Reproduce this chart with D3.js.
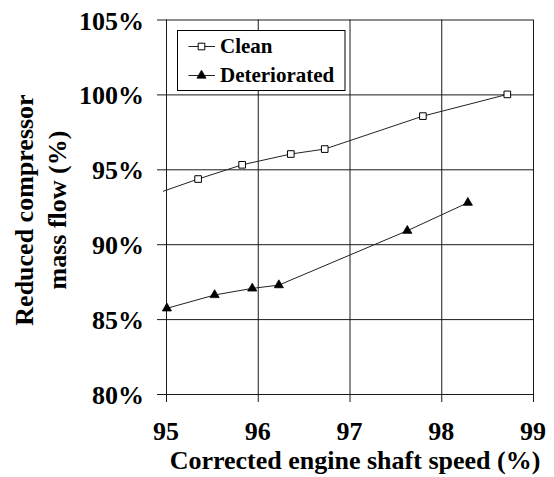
<!DOCTYPE html>
<html>
<head>
<meta charset="utf-8">
<script src="https://cdn.jsdelivr.net/npm/d3@7"></script>
<style>
  html, body { margin: 0; padding: 0; background: #fff; }
  svg { display: block; }
  text { font-family: "Liberation Serif", "Times New Roman", serif; font-weight: bold; fill: #000; }
</style>
</head>
<body>
<script>
// Compressor mass flow against corrected shaft speed
const xTicks = [95, 96, 97, 98, 99];
const yTicks = [80, 85, 90, 95, 100, 105];

// Clean engine (first point lies just left of the axis range and is clipped)
const cleanSpeed = [94.8, 95.35, 95.83, 96.36, 96.73, 97.80, 98.72];
const cleanFlow  = [93.17, 94.35, 95.30, 96.02, 96.35, 98.55, 100.0];

// Deteriorated engine
const detSpeed = [95.01, 95.53, 95.94, 96.23, 97.63, 98.29];
const detFlow  = [85.72, 86.61, 87.05, 87.27, 90.90, 92.77];

const seriesNames = ["Clean", "Deteriorated"];

const W = 554, H = 477;
const plotL = 166, plotR = 533, plotT = 19.5, plotB = 394;

const svg = d3.select("body").append("svg").attr("width", W).attr("height", H);

const x = d3.scaleLinear().domain([95, 99]).range([plotL, plotR]);
const y = d3.scaleLinear().domain([80, 105]).range([plotB, plotT]);

const gridColor = "#1a1a1a";

// Horizontal gridlines with outward ticks
const yAxis = d3.axisLeft(y).tickValues(yTicks).tickSize(-(plotR - plotL)).tickFormat("");
const gy = svg.append("g").attr("transform", `translate(${plotL},0)`).call(yAxis);
gy.select(".domain").remove();
gy.selectAll(".tick line").attr("stroke", gridColor).attr("x1", -9);

// Vertical gridlines with outward ticks
const xAxis = d3.axisBottom(x).tickValues(xTicks).tickSize(-(plotB - plotT)).tickFormat("");
const gx = svg.append("g").attr("transform", `translate(0,${plotB})`).call(xAxis);
gx.select(".domain").remove();
gx.selectAll(".tick line").attr("stroke", gridColor).attr("y1", 8);

// Tick labels
svg.append("g").selectAll("text").data(yTicks).join("text")
  .attr("x", 144).attr("y", d => y(d) + 10)
  .attr("text-anchor", "end").attr("font-size", 26)
  .text(d => d + "%");

svg.append("g").selectAll("text").data(xTicks).join("text")
  .attr("x", d => x(d)).attr("y", 440)
  .attr("text-anchor", "middle").attr("font-size", 26)
  .text(d => d);

// Axis titles
svg.append("text").attr("x", 355).attr("y", 469)
  .attr("text-anchor", "middle").attr("font-size", 26)
  .text("Corrected engine shaft speed (%)");

const yt = svg.append("text").attr("transform", "translate(32.5,210) rotate(-90)")
  .attr("text-anchor", "middle").attr("font-size", 26);
yt.append("tspan").attr("x", 0).attr("y", 0).text("Reduced compressor");
yt.append("tspan").attr("x", 0).attr("y", 33.5).text("mass flow (%)");

// Plot clip for series lines
svg.append("clipPath").attr("id", "plot-clip")
  .append("rect").attr("x", plotL - 3).attr("y", plotT).attr("width", plotR - plotL + 3).attr("height", plotB - plotT);

const clean = cleanSpeed.map((s, i) => ({ s, f: cleanFlow[i] }));
const det = detSpeed.map((s, i) => ({ s, f: detFlow[i] }));

const line = d3.line().x(d => x(d.s)).y(d => y(d.f));

svg.append("path").datum(clean).attr("d", line)
  .attr("fill", "none").attr("stroke", "#222").attr("stroke-width", 1)
  .attr("clip-path", "url(#plot-clip)");
svg.append("path").datum(det).attr("d", line)
  .attr("fill", "none").attr("stroke", "#222").attr("stroke-width", 1)
  .attr("clip-path", "url(#plot-clip)");

const square = d3.symbol().type(d3.symbolSquare).size(44);
const tri = d3.symbol().type(d3.symbolTriangle).size(36);

svg.append("g").selectAll("path").data(clean.filter(d => d.s >= 95)).join("path")
  .attr("transform", d => `translate(${x(d.s)},${y(d.f)})`)
  .attr("d", square).attr("fill", "#fff").attr("stroke", "#000").attr("stroke-width", 1);

svg.append("g").selectAll("path").data(det).join("path")
  .attr("transform", d => `translate(${x(d.s)},${y(d.f)})`)
  .attr("d", tri).attr("fill", "#000").attr("stroke", "#000").attr("stroke-width", 0.8);

// Legend
const lg = svg.append("g");
lg.append("rect").attr("x", 177.5).attr("y", 30.5).attr("width", 167.5).attr("height", 60)
  .attr("fill", "#fff").attr("stroke", "#000").attr("stroke-width", 1);

const legendRows = [
  { name: seriesNames[0], ly: 46.5, ty: 53, sym: square, fill: "#fff" },
  { name: seriesNames[1], ly: 75.5, ty: 82, sym: tri, fill: "#000" }
];
legendRows.forEach(r => {
  lg.append("line").attr("x1", 188.5).attr("x2", 215).attr("y1", r.ly).attr("y2", r.ly)
    .attr("stroke", "#222").attr("stroke-width", 1);
  lg.append("path").attr("transform", `translate(201.5,${r.ly})`).attr("d", r.sym)
    .attr("fill", r.fill).attr("stroke", "#000").attr("stroke-width", r.fill === "#000" ? 0.8 : 1);
  lg.append("text").attr("x", 220).attr("y", r.ty).attr("font-size", 21).text(r.name);
});
</script>
</body>
</html>
